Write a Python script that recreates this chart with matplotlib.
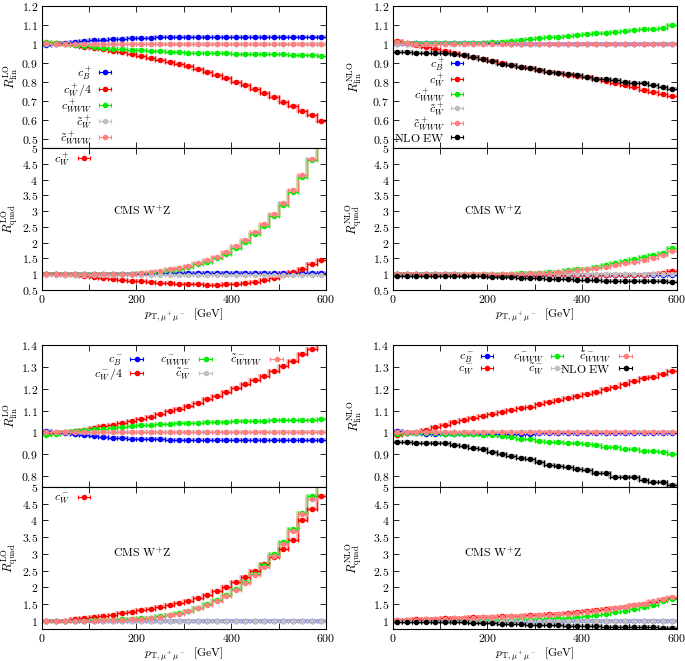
import numpy as np
import matplotlib
matplotlib.use("Agg")
import matplotlib.pyplot as plt
from matplotlib.ticker import FuncFormatter, MultipleLocator

plt.rcParams["mathtext.fontset"] = "cm"
plt.rcParams["font.family"] = ["DejaVu Serif"]

# 20 GeV bins in p_T of the muon pair
edges = np.arange(0, 601, 20)
centers = edges[:-1] + 10

# ---- top left: LO, plus operators ----
lo_lin_p_cB = [0.993, 1.0, 1.003, 1.009, 1.014, 1.018, 1.023, 1.026, 1.028, 1.030, 1.032, 1.033, 1.034, 1.034, 1.035,
               1.035, 1.035, 1.035, 1.036, 1.036, 1.036, 1.036, 1.036, 1.036, 1.036, 1.036, 1.037, 1.037, 1.037, 1.037]
lo_lin_p_cW = [1.005, 1.005, 1.0, 0.993, 0.986, 0.979, 0.972, 0.963, 0.956, 0.947, 0.937, 0.926, 0.916, 0.905, 0.893,
               0.881, 0.867, 0.853, 0.835, 0.818, 0.800, 0.781, 0.761, 0.740, 0.718, 0.695, 0.672, 0.647, 0.623, 0.593]
lo_lin_p_cWWW = [1.010, 1.007, 1.0, 0.993, 0.988, 0.982, 0.979, 0.975, 0.972, 0.968, 0.965, 0.961, 0.960, 0.958, 0.956,
                 0.954, 0.953, 0.952, 0.951, 0.950, 0.949, 0.948, 0.947, 0.946, 0.945, 0.944, 0.943, 0.942, 0.941, 0.937]
lo_lin_p_tW = [1.0, 1.0, 1.0, 1.0, 1.0, 1.0, 1.0, 1.0, 1.0, 1.0, 1.0, 1.0, 1.0, 1.0, 1.0,
               1.0, 1.0, 1.0, 1.0, 1.0, 1.0, 1.0, 1.0, 1.0, 1.0, 1.0, 1.0, 1.0, 1.0, 1.0]
lo_lin_p_tWWW = [1.003, 1.001, 1.0, 1.0, 1.0, 1.0, 1.0, 1.0, 1.0, 1.0, 1.0, 1.0, 1.0, 1.0, 1.0,
                 1.0, 1.0, 1.0, 1.0, 1.0, 1.0, 1.0, 1.0, 1.0, 1.0, 1.0, 1.0, 1.0, 1.0, 1.0]

lo_quad_p_cB = [1.0, 1.0, 1.0, 1.0, 1.0, 1.01, 1.01, 1.01, 1.02, 1.02, 1.02, 1.02, 1.03, 1.03, 1.03,
                1.03, 1.03, 1.03, 1.04, 1.04, 1.04, 1.04, 1.04, 1.04, 1.04, 1.04, 1.04, 1.04, 1.05, 1.05]
lo_quad_p_cW = [1.0, 1.0, 0.99, 0.97, 0.95, 0.92, 0.89, 0.86, 0.83, 0.80, 0.78, 0.76, 0.73, 0.72, 0.70,
                0.69, 0.68, 0.67, 0.67, 0.68, 0.70, 0.72, 0.76, 0.81, 0.87, 0.96, 1.06, 1.17, 1.31, 1.46]
lo_quad_p_cWWW = [1.0, 1.0, 1.0, 1.0, 1.0, 1.0, 1.0, 1.0, 1.01, 1.02, 1.03, 1.05, 1.08, 1.12, 1.18,
                  1.24, 1.31, 1.39, 1.50, 1.64, 1.82, 2.03, 2.26, 2.54, 2.85, 3.20, 3.62, 4.08, 4.61, 5.25]
lo_quad_p_tW = [0.99, 0.99, 0.99, 0.99, 0.99, 0.99, 0.99, 0.99, 0.99, 0.99, 0.99, 0.99, 0.99, 0.99, 0.99,
                0.99, 0.99, 0.99, 0.99, 0.99, 0.99, 0.99, 0.99, 0.99, 0.99, 0.99, 0.99, 0.99, 0.99, 0.99]
lo_quad_p_tWWW = [1.0, 1.0, 1.0, 1.0, 1.0, 1.0, 1.0, 1.01, 1.01, 1.02, 1.04, 1.06, 1.10, 1.15, 1.20,
                  1.26, 1.35, 1.44, 1.56, 1.70, 1.88, 2.08, 2.33, 2.58, 2.90, 3.26, 3.68, 4.15, 4.66, 5.30]

# ---- top right: NLO, plus operators ----
nlo_lin_p_cB = [1.0, 1.0, 1.002, 1.004, 1.005, 1.006, 1.006, 1.006, 1.005, 1.004, 1.003, 1.002, 1.001, 1.001, 1.0,
                1.0, 1.0, 1.0, 1.0, 1.0, 1.0, 1.0, 1.0, 1.0, 1.0, 1.0, 1.0, 1.0, 1.0, 1.0]
nlo_lin_p_cW = [1.014, 1.005, 0.996, 0.984, 0.975, 0.961, 0.951, 0.942, 0.931, 0.920, 0.908, 0.897, 0.887, 0.878, 0.870,
                0.862, 0.852, 0.846, 0.838, 0.832, 0.825, 0.815, 0.803, 0.795, 0.781, 0.774, 0.756, 0.747, 0.735, 0.723]
nlo_lin_p_cWWW = [1.010, 1.006, 1.004, 1.003, 1.002, 1.002, 1.003, 1.003, 1.004, 1.006, 1.009, 1.012, 1.016, 1.020, 1.024,
                  1.029, 1.034, 1.038, 1.042, 1.047, 1.052, 1.056, 1.060, 1.064, 1.068, 1.072, 1.076, 1.081, 1.086, 1.098]
nlo_lin_p_tW = [1.0, 1.0, 1.0, 1.0, 1.0, 1.0, 1.0, 1.0, 1.0, 1.0, 1.0, 1.0, 1.0, 1.0, 1.0,
                1.0, 1.0, 1.0, 1.0, 1.0, 1.0, 1.0, 1.0, 1.0, 1.0, 1.0, 1.0, 1.0, 1.0, 1.0]
nlo_lin_p_tWWW = [1.010, 1.005, 1.0, 1.0, 1.0, 1.0, 1.0, 1.0, 1.0, 1.0, 1.0, 1.0, 1.0, 1.0, 1.0,
                  1.0, 1.0, 1.0, 1.0, 1.0, 1.0, 1.0, 1.0, 1.0, 1.0, 1.0, 1.0, 1.0, 1.0, 1.0]
nlo_lin_p_ew = [0.958, 0.956, 0.953, 0.953, 0.953, 0.953, 0.949, 0.942, 0.928, 0.918, 0.907, 0.896, 0.886, 0.877, 0.870,
                0.861, 0.851, 0.847, 0.839, 0.833, 0.826, 0.816, 0.812, 0.809, 0.796, 0.791, 0.795, 0.784, 0.774, 0.763]

nlo_quad_p_cB = [1.0, 1.0, 1.0, 1.0, 1.0, 1.0, 1.0, 0.99, 0.99, 0.99, 0.99, 0.99, 0.99, 0.99, 0.99,
                 0.99, 0.99, 0.99, 0.99, 0.99, 0.99, 0.99, 0.99, 0.99, 0.99, 0.99, 0.99, 0.99, 0.99, 0.99]
nlo_quad_p_cW = [1.01, 1.0, 1.0, 0.99, 0.99, 0.99, 0.99, 0.98, 0.98, 0.98, 0.97, 0.97, 0.96, 0.96, 0.96,
                 0.96, 0.96, 0.96, 0.96, 0.96, 0.96, 0.96, 0.96, 0.97, 0.97, 0.98, 0.99, 1.01, 1.05, 1.10]
nlo_quad_p_cWWW = [1.0, 1.0, 1.0, 1.0, 1.0, 1.0, 1.0, 1.0, 1.0, 1.01, 1.01, 1.02, 1.02, 1.03, 1.03,
                   1.04, 1.06, 1.08, 1.12, 1.15, 1.18, 1.22, 1.29, 1.34, 1.41, 1.48, 1.54, 1.61, 1.68, 1.83]
nlo_quad_p_tW = [1.0, 1.0, 1.0, 1.0, 1.0, 1.0, 1.0, 1.0, 1.0, 1.0, 1.0, 1.0, 1.0, 1.0, 1.0,
                 1.0, 1.0, 1.0, 1.0, 1.0, 1.0, 1.0, 1.0, 1.0, 1.0, 1.0, 1.0, 1.0, 1.0, 1.0]
nlo_quad_p_tWWW = [1.0, 1.0, 1.0, 1.0, 1.0, 1.0, 1.0, 1.0, 1.0, 1.0, 1.01, 1.01, 1.02, 1.02, 1.03,
                   1.04, 1.05, 1.07, 1.09, 1.12, 1.15, 1.19, 1.24, 1.28, 1.34, 1.40, 1.46, 1.52, 1.60, 1.73]
nlo_quad_p_ew = [0.955, 0.955, 0.955, 0.955, 0.955, 0.955, 0.95, 0.945, 0.94, 0.93, 0.92, 0.91, 0.90, 0.89, 0.88,
                 0.87, 0.86, 0.85, 0.84, 0.83, 0.82, 0.815, 0.80, 0.80, 0.79, 0.785, 0.78, 0.775, 0.77, 0.755]

# ---- bottom left: LO, minus operators ----
lo_lin_m_cB = [1.005, 0.998, 0.998, 0.992, 0.986, 0.982, 0.979, 0.975, 0.974, 0.972, 0.971, 0.969, 0.968, 0.967, 0.966,
               0.966, 0.966, 0.966, 0.966, 0.966, 0.966, 0.966, 0.966, 0.965, 0.965, 0.965, 0.965, 0.965, 0.965, 0.965]
lo_lin_m_cW = [0.997, 0.997, 1.0, 1.006, 1.012, 1.018, 1.029, 1.036, 1.043, 1.054, 1.063, 1.072, 1.083, 1.097, 1.109,
               1.121, 1.135, 1.152, 1.167, 1.186, 1.203, 1.222, 1.240, 1.260, 1.282, 1.306, 1.329, 1.357, 1.382, 1.414]
lo_lin_m_cWWW = [0.988, 0.994, 1.0, 1.005, 1.009, 1.014, 1.017, 1.020, 1.025, 1.028, 1.032, 1.035, 1.037, 1.040, 1.041,
                 1.043, 1.044, 1.046, 1.048, 1.049, 1.051, 1.051, 1.052, 1.054, 1.055, 1.056, 1.057, 1.058, 1.058, 1.061]
lo_lin_m_tW = [1.0, 1.0, 1.0, 1.0, 1.0, 1.0, 1.0, 1.0, 1.0, 1.0, 1.0, 1.0, 1.0, 1.0, 1.0,
               1.0, 1.0, 1.0, 1.0, 1.0, 1.0, 1.0, 1.0, 1.0, 1.0, 1.0, 1.0, 1.0, 1.0, 1.0]
lo_lin_m_tWWW = [1.0, 1.0, 1.0, 1.0, 1.0, 1.0, 1.0, 1.0, 1.0, 1.0, 1.0, 1.0, 1.0, 1.0, 1.0,
                 1.0, 1.0, 1.0, 1.0, 1.0, 1.0, 1.0, 1.0, 1.0, 1.0, 1.0, 1.0, 1.0, 1.0, 1.0]

lo_quad_m_cB = [1.0, 1.0, 0.99, 0.99, 0.99, 0.99, 0.98, 0.98, 0.98, 0.98, 0.98, 0.98, 0.98, 0.98, 0.98,
                0.98, 0.98, 0.98, 0.98, 0.98, 0.98, 0.98, 0.98, 0.98, 0.98, 0.98, 0.98, 0.98, 0.98, 0.98]
lo_quad_m_cW = [1.0, 1.0, 1.0, 1.04, 1.07, 1.11, 1.15, 1.18, 1.22, 1.26, 1.31, 1.36, 1.42, 1.48, 1.54,
                1.60, 1.68, 1.77, 1.89, 2.02, 2.17, 2.32, 2.49, 2.69, 2.90, 3.14, 3.41, 4.00, 4.35, 4.74]
lo_quad_m_cWWW = [1.0, 1.0, 1.0, 1.0, 1.0, 1.01, 1.02, 1.03, 1.04, 1.05, 1.07, 1.09, 1.13, 1.17, 1.22,
                  1.30, 1.39, 1.50, 1.63, 1.77, 1.94, 2.16, 2.41, 2.68, 2.98, 3.35, 3.74, 4.23, 4.74, 5.30]
lo_quad_m_tW = [1.0, 1.0, 1.0, 1.0, 1.0, 1.0, 1.0, 1.0, 1.0, 1.0, 1.0, 1.0, 1.0, 1.0, 1.0,
                1.0, 1.0, 1.0, 1.0, 1.0, 1.0, 1.0, 1.0, 1.0, 1.0, 1.0, 1.0, 1.0, 1.0, 1.0]
lo_quad_m_tWWW = [1.0, 1.0, 1.0, 1.0, 1.0, 1.0, 1.01, 1.02, 1.03, 1.04, 1.06, 1.09, 1.12, 1.16, 1.21,
                  1.28, 1.37, 1.48, 1.60, 1.74, 1.91, 2.12, 2.36, 2.62, 2.93, 3.29, 3.67, 4.18, 4.64, 5.35]

# ---- bottom right: NLO, minus operators ----
nlo_lin_m_cB = [1.005, 0.999, 0.995, 0.993, 0.993, 0.993, 0.993, 0.993, 0.993, 0.993, 0.993, 0.993, 0.994, 0.994, 0.994,
                0.995, 0.995, 0.995, 0.996, 0.996, 0.996, 0.997, 0.997, 0.997, 0.998, 0.998, 0.998, 0.998, 0.999, 0.999]
nlo_lin_m_cW = [0.988, 0.995, 1.0, 1.012, 1.025, 1.035, 1.048, 1.058, 1.066, 1.075, 1.084, 1.094, 1.103, 1.110, 1.118,
                1.129, 1.138, 1.149, 1.158, 1.166, 1.176, 1.187, 1.200, 1.210, 1.222, 1.233, 1.248, 1.255, 1.268, 1.281]
nlo_lin_m_cWWW = [0.992, 0.995, 0.997, 0.997, 0.995, 0.994, 0.992, 0.992, 0.991, 0.989, 0.988, 0.983, 0.979, 0.972, 0.968,
                  0.962, 0.957, 0.955, 0.953, 0.950, 0.946, 0.940, 0.934, 0.931, 0.925, 0.922, 0.917, 0.913, 0.910, 0.900]
nlo_lin_m_tW = [1.0, 1.0, 1.0, 1.0, 1.0, 1.0, 1.0, 1.0, 1.0, 1.0, 1.0, 1.0, 1.0, 1.0, 1.0,
                1.0, 1.0, 1.0, 1.0, 1.0, 1.0, 1.0, 1.0, 1.0, 1.0, 1.0, 1.0, 1.0, 1.0, 1.0]
nlo_lin_m_tWWW = [1.0, 1.0, 1.0, 1.0, 1.0, 1.0, 1.0, 1.0, 1.0, 1.0, 1.0, 1.0, 1.0, 1.0, 1.0,
                  1.0, 1.0, 1.0, 1.0, 1.0, 1.001, 1.001, 1.001, 1.001, 1.001, 1.001, 1.002, 1.002, 1.002, 1.002]
nlo_lin_m_ew = [0.957, 0.954, 0.951, 0.951, 0.951, 0.951, 0.943, 0.936, 0.928, 0.923, 0.911, 0.902, 0.891, 0.885, 0.877,
                0.865, 0.851, 0.848, 0.840, 0.833, 0.828, 0.812, 0.814, 0.795, 0.794, 0.795, 0.783, 0.771, 0.774, 0.760]

nlo_quad_m_cB = [0.99, 0.99, 0.99, 0.99, 0.99, 0.99, 0.99, 0.99, 0.99, 0.99, 0.99, 0.99, 0.99, 0.99, 0.99,
                 0.99, 0.99, 0.99, 0.99, 0.99, 0.99, 0.99, 0.99, 0.99, 0.99, 0.99, 0.99, 0.99, 0.99, 0.99]
nlo_quad_m_cW = [1.02, 1.03, 1.04, 1.05, 1.06, 1.07, 1.08, 1.09, 1.10, 1.11, 1.12, 1.13, 1.14, 1.15, 1.16,
                 1.18, 1.19, 1.21, 1.23, 1.25, 1.28, 1.31, 1.34, 1.38, 1.42, 1.46, 1.51, 1.56, 1.62, 1.67]
nlo_quad_m_cWWW = [1.0, 1.0, 1.0, 1.0, 1.0, 1.0, 1.0, 1.0, 1.0, 1.01, 1.01, 1.02, 1.03, 1.04, 1.05,
                   1.06, 1.07, 1.08, 1.09, 1.11, 1.13, 1.16, 1.20, 1.25, 1.30, 1.35, 1.42, 1.48, 1.58, 1.65]
nlo_quad_m_tW = [1.0, 1.0, 1.0, 1.0, 1.0, 1.0, 1.0, 1.0, 1.0, 1.0, 1.0, 1.0, 1.0, 1.0, 1.0,
                 1.0, 1.0, 1.0, 1.0, 1.0, 1.0, 1.0, 1.0, 1.0, 1.0, 1.0, 1.0, 1.0, 1.0, 1.0]
nlo_quad_m_tWWW = [1.01, 1.02, 1.03, 1.04, 1.05, 1.06, 1.07, 1.08, 1.09, 1.10, 1.11, 1.12, 1.13, 1.14, 1.15,
                   1.16, 1.17, 1.19, 1.21, 1.23, 1.26, 1.29, 1.33, 1.37, 1.41, 1.46, 1.51, 1.58, 1.66, 1.72]
nlo_quad_m_ew = [0.96, 0.96, 0.96, 0.96, 0.96, 0.96, 0.955, 0.95, 0.94, 0.93, 0.92, 0.91, 0.90, 0.89, 0.88,
                 0.87, 0.86, 0.86, 0.85, 0.84, 0.84, 0.83, 0.82, 0.82, 0.81, 0.81, 0.80, 0.80, 0.79, 0.79]

BLUE, RED, GREEN, GREY, SALMON, BLACK = "#0000ff", "#ff0000", "#00ee00", "#c0c0c0", "#ff8080", "#000000"
W, H = 685.0, 661.0


def frac_axes(fig, x0, x1, ytop, ybot):
    return fig.add_axes([x0 / W, 1 - ybot / H, (x1 - x0) / W, (ybot - ytop) / H])


def draw(ax, series):
    for vals, color in series:
        ax.stairs(vals, edges, color=color, lw=2.6, alpha=0.3, baseline=None)
        ax.stairs(vals, edges, color=color, lw=0.8, alpha=0.8, baseline=None)
        ax.errorbar(centers, vals, xerr=10, fmt="o", color=color, ms=3, elinewidth=0.8,
                    capsize=1.6, capthick=0.8)


def style(ax, ylim, yticks, ylabel, xlabels, label_x):
    ax.set_xlim(0, 600)
    ax.set_ylim(*ylim)
    ax.set_yticks(yticks)
    ax.xaxis.set_major_locator(MultipleLocator(200))
    ax.xaxis.set_minor_locator(MultipleLocator(100))
    fmt = FuncFormatter(lambda v, p: "${:g}$".format(round(v, 3)))
    ax.yaxis.set_major_formatter(fmt)
    ax.xaxis.set_major_formatter(fmt)
    ax.tick_params(which="both", direction="in", top=True, right=True, length=4, width=0.6,
                   labelsize=8.5, pad=2.5)
    if not xlabels:
        ax.tick_params(labelbottom=False)
    else:
        ax.set_xlabel(r"$p_{\mathrm{T},\mu^+\mu^-}\ \ [\mathrm{GeV}]$", fontsize=8.5, labelpad=0)
    ax.set_ylabel(ylabel, fontsize=9)
    ax.yaxis.set_label_coords(label_x, 0.5)
    for s in ax.spines.values():
        s.set_linewidth(0.8)


def cms(ax):
    ax.text(150, 3.0, r"$\mathrm{CMS\ W^{+}Z}$", fontsize=8.5, ha="left", va="center")


def key(fig, entries):
    # gnuplot-style key: right-aligned label, then a short error-bar sample
    for label, color, xt, xs0, xs1, y in entries:
        fy = 1 - y / H
        fig.text(xt / W, fy - 1.5 / H, label, fontsize=8.5, ha="right", va="center")
        fig.add_artist(plt.Line2D([xs0 / W, xs1 / W], [fy, fy], color=color, lw=0.8,
                                  marker="|", ms=3.5, mew=0.8, transform=fig.transFigure))
        fig.add_artist(plt.Line2D([(xs0 + xs1) / 2 / W], [fy], color=color, marker="o", ms=3,
                                  transform=fig.transFigure))


fig = plt.figure(figsize=(6.85, 6.61), dpi=100)

LX = (41.5, 326.0)
RX = (392.7, 676.7)
lin_lo = r"$R^{\mathrm{LO}}_{\mathrm{lin}}$"
quad_lo = r"$R^{\mathrm{LO}}_{\mathrm{quad}}$"
lin_nlo = r"$R^{\mathrm{NLO}}_{\mathrm{lin}}$"
quad_nlo = r"$R^{\mathrm{NLO}}_{\mathrm{quad}}$"
lin_ticks_top = [0.5, 0.6, 0.7, 0.8, 0.9, 1.0, 1.1, 1.2]
lin_ticks_bot = [0.8, 0.9, 1.0, 1.1, 1.2, 1.3, 1.4]
quad_ticks_top = [0.5, 1, 1.5, 2, 2.5, 3, 3.5, 4, 4.5, 5]
quad_ticks_bot = [1, 1.5, 2, 2.5, 3, 3.5, 4, 4.5, 5]
LLAB, RLAB = -0.075, -0.1

# top left
ax = frac_axes(fig, LX[0], LX[1], 6, 148)
draw(ax, [(lo_lin_p_cB, BLUE), (lo_lin_p_cW, RED), (lo_lin_p_cWWW, GREEN),
          (lo_lin_p_tW, GREY), (lo_lin_p_tWWW, SALMON)])
style(ax, (0.45, 1.2), lin_ticks_top, lin_lo, False, LLAB)
key(fig, [(r"$c_B^+$", BLUE, 92, 99, 111, 72), (r"$c_W^+/4$", RED, 92, 99, 111, 89),
          (r"$c_{WWW}^+$", GREEN, 92, 99, 111, 105), (r"$\tilde{c}_W^+$", GREY, 92, 99, 111, 121),
          (r"$\tilde{c}_{WWW}^+$", SALMON, 92, 99, 111, 137)])

ax = frac_axes(fig, LX[0], LX[1], 148, 290)
draw(ax, [(lo_quad_p_cB, BLUE), (lo_quad_p_cW, RED), (lo_quad_p_cWWW, GREEN),
          (lo_quad_p_tW, GREY), (lo_quad_p_tWWW, SALMON)])
style(ax, (0.5, 5), quad_ticks_top, quad_lo, True, LLAB)
cms(ax)
key(fig, [(r"$c_W^+$", RED, 70, 78, 90, 158)])

# top right
ax = frac_axes(fig, RX[0], RX[1], 6, 148)
draw(ax, [(nlo_lin_p_cB, BLUE), (nlo_lin_p_cW, RED), (nlo_lin_p_cWWW, GREEN),
          (nlo_lin_p_tW, GREY), (nlo_lin_p_tWWW, SALMON), (nlo_lin_p_ew, BLACK)])
style(ax, (0.45, 1.2), lin_ticks_top, lin_nlo, False, RLAB)
key(fig, [(r"$c_B^+$", BLUE, 445, 451, 463, 63), (r"$c_W^+$", RED, 445, 451, 463, 79),
          (r"$c_{WWW}^+$", GREEN, 445, 451, 463, 94), (r"$\tilde{c}_W^+$", GREY, 445, 451, 463, 108),
          (r"$\tilde{c}_{WWW}^+$", SALMON, 445, 451, 463, 123),
          (r"$\mathrm{NLO\ EW}$", BLACK, 445, 451, 463, 137)])

ax = frac_axes(fig, RX[0], RX[1], 148, 290)
draw(ax, [(nlo_quad_p_cB, BLUE), (nlo_quad_p_cW, RED), (nlo_quad_p_cWWW, GREEN),
          (nlo_quad_p_tW, GREY), (nlo_quad_p_tWWW, SALMON), (nlo_quad_p_ew, BLACK)])
style(ax, (0.5, 5), quad_ticks_top, quad_nlo, True, RLAB)
cms(ax)

# bottom left
ax = frac_axes(fig, LX[0], LX[1], 345, 487)
draw(ax, [(lo_lin_m_cB, BLUE), (lo_lin_m_cW, RED), (lo_lin_m_cWWW, GREEN),
          (lo_lin_m_tW, GREY), (lo_lin_m_tWWW, SALMON)])
style(ax, (0.75, 1.4), lin_ticks_bot, lin_lo, False, LLAB)
key(fig, [(r"$c_B^-$", BLUE, 123, 130, 143, 359), (r"$c_W^-/4$", RED, 123, 130, 143, 373),
          (r"$c_{WWW}^-$", GREEN, 191, 199, 212, 359), (r"$\tilde{c}_W^-$", GREY, 191, 199, 212, 373),
          (r"$\tilde{c}_{WWW}^-$", SALMON, 262, 270, 283, 359)])

ax = frac_axes(fig, LX[0], LX[1], 487, 629)
draw(ax, [(lo_quad_m_cB, BLUE), (lo_quad_m_cW, RED), (lo_quad_m_cWWW, GREEN),
          (lo_quad_m_tW, GREY), (lo_quad_m_tWWW, SALMON)])
style(ax, (0.75, 5), quad_ticks_bot, quad_lo, True, LLAB)
cms(ax)
key(fig, [(r"$c_W^-$", RED, 70, 78, 90, 497)])

# bottom right
ax = frac_axes(fig, RX[0], RX[1], 345, 487)
draw(ax, [(nlo_lin_m_cB, BLUE), (nlo_lin_m_cW, RED), (nlo_lin_m_cWWW, GREEN),
          (nlo_lin_m_tW, GREY), (nlo_lin_m_tWWW, SALMON), (nlo_lin_m_ew, BLACK)])
style(ax, (0.75, 1.4), lin_ticks_bot, lin_nlo, False, RLAB)
key(fig, [(r"$c_B^-$", BLUE, 474, 481, 493, 356), (r"$c_W^-$", RED, 474, 481, 493, 368),
          (r"$c_{WWW}^-$", GREEN, 544, 551, 563, 356), (r"$\tilde{c}_W^-$", GREY, 544, 551, 563, 368),
          (r"$\tilde{c}_{WWW}^-$", SALMON, 611, 619, 632, 356),
          (r"$\mathrm{NLO\ EW}$", BLACK, 611, 619, 632, 368)])

ax = frac_axes(fig, RX[0], RX[1], 487, 629)
draw(ax, [(nlo_quad_m_cB, BLUE), (nlo_quad_m_cW, RED), (nlo_quad_m_cWWW, GREEN),
          (nlo_quad_m_tW, GREY), (nlo_quad_m_tWWW, SALMON), (nlo_quad_m_ew, BLACK)])
style(ax, (0.75, 5), quad_ticks_bot, quad_nlo, True, RLAB)
cms(ax)

fig.savefig("out.png", dpi=100)
